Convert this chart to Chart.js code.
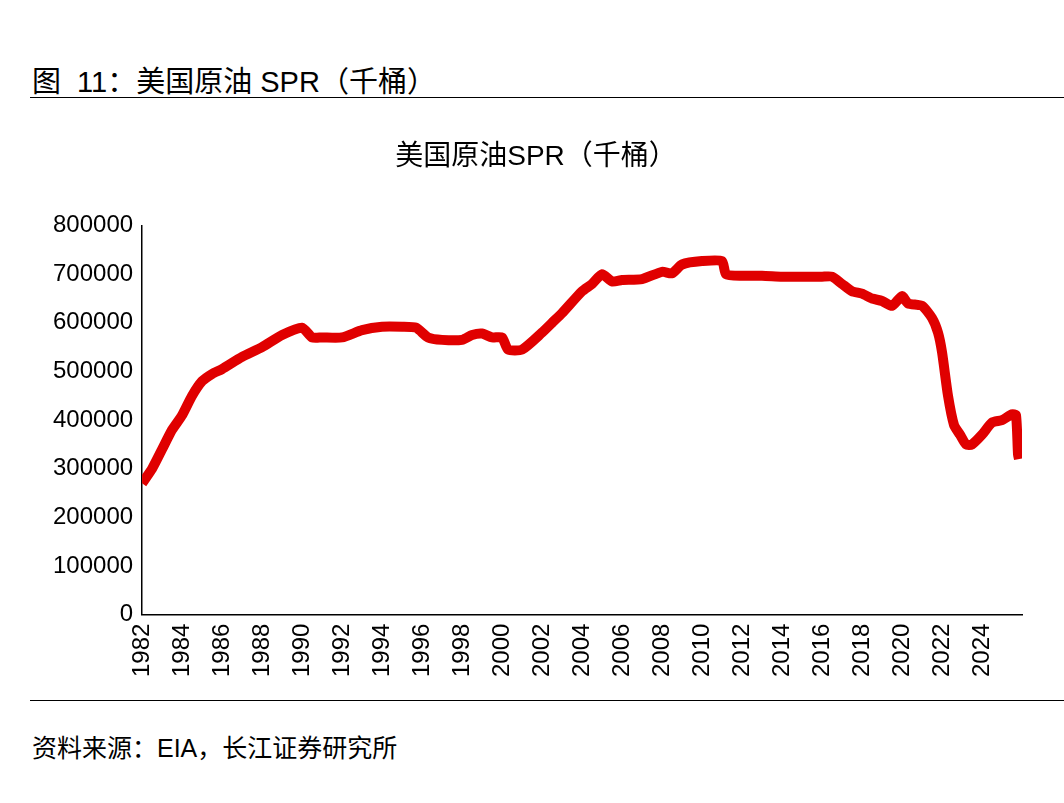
<!DOCTYPE html>
<html><head><meta charset="utf-8">
<script src="https://cdn.jsdelivr.net/npm/chart.js@4/dist/chart.umd.min.js"></script>
<style>
body{margin:0;width:1064px;height:803px;background:#fff;font-family:"Liberation Sans","Noto Sans CJK SC",sans-serif;position:relative;overflow:hidden}
#head{position:absolute;left:32px;top:58px;font-size:29px;color:#000}
#l1{position:absolute;left:30px;right:0;top:97px;border-top:1.5px solid #000}
#l2{position:absolute;left:30px;right:0;top:700px;border-top:1.5px solid #000}
#foot{position:absolute;left:32px;top:728px;font-size:25px;color:#000}
#box{position:absolute;left:0;top:118px;width:1064px;height:562px}
</style></head><body>
<div id="head">图&nbsp; 11：美国原油 SPR（千桶）</div>
<div id="l1"></div>
<div id="box"><canvas id="chart"></canvas></div>
<div id="l2"></div>
<div id="foot">资料来源：EIA，长江证券研究所</div>
<script>
const years = [1982.0,1982.5,1983,1983.5,1984,1984.5,1985,1985.5,1986,1987,1988,1989,1990,1990.5,1991,1992,1993,1994,1995,1995.7,1996.3,1997,1998,1998.5,1999,1999.5,2000,2000.3,2001,2002,2002.5,2003,2004,2004.5,2005,2005.5,2006,2007,2008,2008.5,2009,2010,2011,2011.2,2012,2013,2014,2015,2016,2016.5,2017,2017.5,2018,2018.5,2019,2019.5,2020,2020.3,2021,2021.5,2021.8,2022,2022.3,2022.6,2022.9,2023.2,2023.5,2024,2024.5,2025,2025.5,2025.7,2025.8,2025.85]
const spr = [270000,300000,340000,380000,410000,450000,480000,495000,505000,530000,550000,575000,590000,570000,570000,570000,585000,592000,592000,590000,570000,565000,565000,575000,578000,570000,570000,545000,545000,580000,600000,620000,665000,680000,700000,685000,688000,690000,705000,702000,720000,727000,727000,700000,697000,697000,695000,695000,695000,695000,680000,665000,660000,650000,645000,635000,655000,640000,635000,610000,580000,540000,450000,390000,370000,350000,350000,370000,395000,400000,412000,410000,330000,320000]
const yTicks = [0,100000,200000,300000,400000,500000,600000,700000,800000]

const ctx = document.getElementById('chart').getContext('2d')
Chart.defaults.font.family = '"Liberation Sans","Noto Sans CJK SC",sans-serif'
Chart.defaults.color = '#000'
new Chart(ctx, {
  type: 'line',
  data: {
    datasets: [{
      data: years.map((y, i) => ({ x: y, y: spr[i] })),
      borderColor: '#e00000',
      backgroundColor: '#e00000',
      borderWidth: 10,
      pointRadius: 0,
      tension: 0.2
    }]
  },
  options: {
    responsive: true,
    maintainAspectRatio: false,
    animation: false,
    layout: { padding: { left: 50, right: 42, top: 0, bottom: 0 } },
    plugins: {
      legend: { display: false },
      title: { display: true, text: '美国原油SPR（千桶）', font: { size: 28, weight: 'normal' }, padding: { top: 22, bottom: 52 } }
    },
    scales: {
      x: {
        type: 'linear', min: 1982, max: 2026,
        afterBuildTicks: s => { s.ticks = []; for (let y = 1982; y <= 2024; y += 2) s.ticks.push({ value: y }) },
        ticks: { minRotation: 90, maxRotation: 90, font: { size: 24 }, callback: v => String(v) },
        grid: { display: false, drawTicks: true, tickLength: 6 },
        border: { color: '#000', width: 1.5 }
      },
      y: {
        min: 0, max: 800000,
        afterBuildTicks: s => { s.ticks = yTicks.map(v => ({ value: v })) },
        ticks: { font: { size: 24 }, callback: v => String(v) },
        grid: { display: false, drawTicks: true, tickLength: 6 },
        border: { color: '#000', width: 1.5 }
      }
    }
  }
})
</script>
</body></html>
